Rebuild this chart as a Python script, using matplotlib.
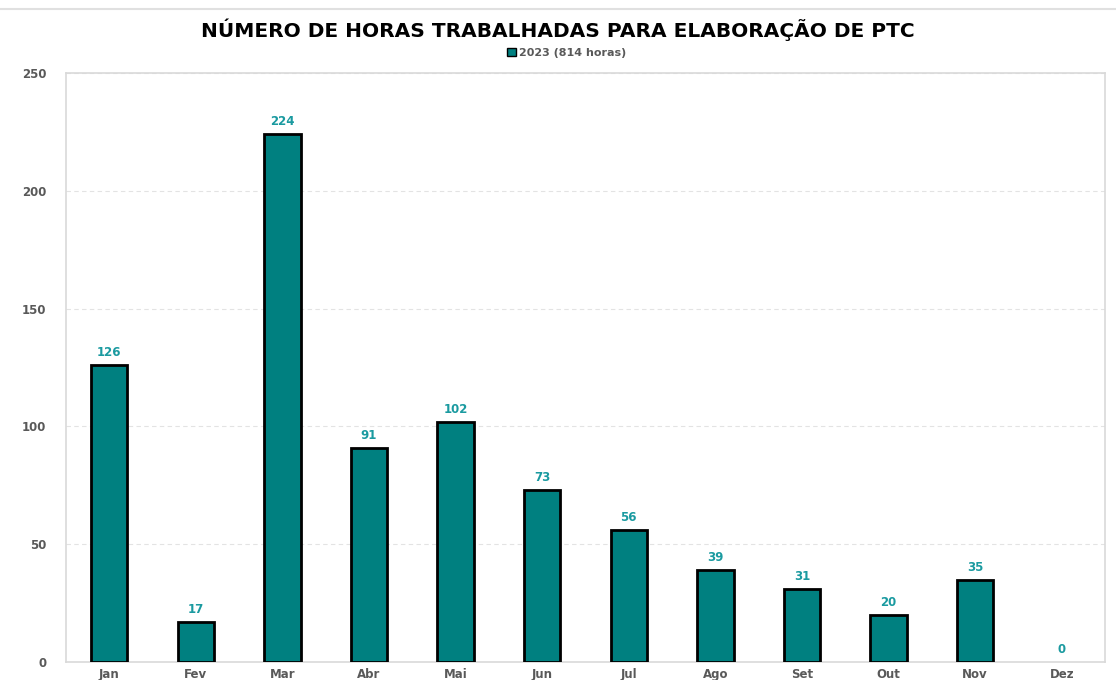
import matplotlib
matplotlib.use("Agg")
from matplotlib import pyplot as plt
from matplotlib.patches import Patch

meses = ['Jan', 'Fev', 'Mar', 'Abr', 'Mai', 'Jun', 'Jul', 'Ago', 'Set', 'Out', 'Nov', 'Dez']
horas = [126, 17, 224, 91, 102, 73, 56, 39, 31, 20, 35, 0]
serie = '2023 (814 horas)'
titulo = 'NÚMERO DE HORAS TRABALHADAS PARA ELABORAÇÃO DE PTC'

teal = '#008080'
label_col = '#1a9aa0'
tick_col = '#595959'

plt.rcParams['font.family'] = ['DejaVu Sans']

fig = plt.figure(figsize=(11.16, 6.8), dpi=100)
ax = fig.add_axes([66/1116, 1 - 662/680, (1105-66)/1116, (662-73)/680])

x = range(len(meses))
# zero-height bars get no outline, like the original
lw = [2 if v > 0 else 0 for v in horas]
ax.bar(x, horas, width=0.42, color=teal, edgecolor='black', linewidth=lw, zorder=3)
for xi, v in zip(x, horas):
    ax.text(xi, v + 2.5, str(v), ha='center', va='bottom', fontsize=8.5,
            fontweight='bold', color=label_col, zorder=4)

ax.set_xlim(-0.5, len(meses) - 0.5)
ax.set_ylim(0, 250)
ax.set_yticks(range(0, 251, 50))
ax.set_xticks(list(x))
ax.set_xticklabels(meses)
ax.tick_params(axis='both', length=0, labelsize=8.5, labelcolor=tick_col)
for lab in ax.get_xticklabels() + ax.get_yticklabels():
    lab.set_fontweight('bold')
ax.tick_params(axis='y', pad=14)
ax.tick_params(axis='x', pad=4)
ax.grid(axis='y', color='#e3e3e3', linestyle=(0, (4, 3)), linewidth=0.8, zorder=0)
for s in ax.spines.values():
    s.set_color('#d9d9d9')
    s.set_linewidth(1.2)

# thin frame line along the top of the picture
fig.add_artist(plt.Line2D([0, 1], [1 - 9/680, 1 - 9/680], color='#e0e0e0', linewidth=1.5))

fig.text(0.5, 1 - 30/680, titulo, ha='center', va='center', fontsize=14.5,
         fontweight='bold', color='black')
fig.legend(handles=[Patch(facecolor=teal, edgecolor='black', linewidth=1, label=serie)],
           loc='center', bbox_to_anchor=(0.508, 1 - 53/680), frameon=False,
           handlelength=0.8, handleheight=0.8, handletextpad=0.3,
           labelcolor=tick_col, prop={'weight': 'bold', 'size': 8})

fig.savefig('out.png', dpi=100)
